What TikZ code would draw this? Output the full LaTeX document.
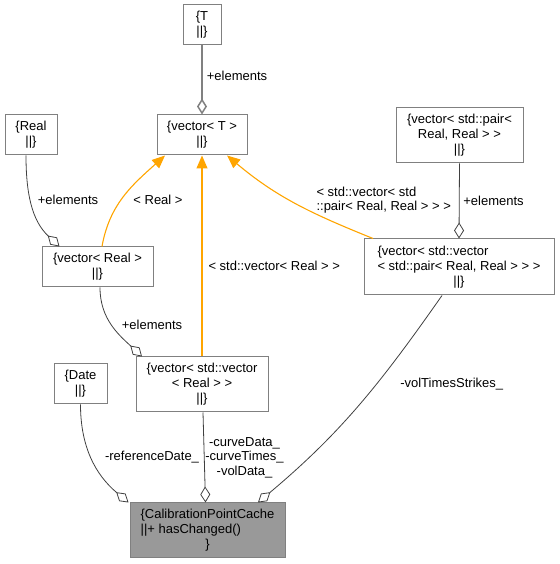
\documentclass[tikz,border=0pt]{standalone}
\usepackage{fontspec}
\setmainfont{Liberation Sans}
\usetikzlibrary{arrows.meta}
\definecolor{inherit}{RGB}{255,165,0}
\definecolor{aggline}{RGB}{64,64,64}
\definecolor{boxline}{RGB}{128,128,128}
\definecolor{cachefill}{RGB}{153,153,153}

\begin{document}
\begin{tikzpicture}[x=1pt,y=1pt,
    cls/.style={draw=boxline,line width=1pt,fill=white,align=center,inner sep=0pt,
      font=\fontsize{13}{15}\selectfont},
    lbl/.style={align=center,font=\fontsize{13}{14.5}\selectfont},
    inh/.style={draw=inherit,line width=1.1pt,-{Triangle[length=13pt,width=11pt]}},
    agg/.style={draw=aggline,line width=0.8pt,{Diamond[open,length=16pt,width=10pt]}-}]
      % frame: 1px of the 559x564 image = 1pt, y measured from the bottom
      \useasboundingbox (0,0) rectangle (559,564);
      % classes
      \node[cls,minimum width=38pt,minimum height=40pt] (T) at (202,539) {\{T\\||\}};
      \node[cls,minimum width=90pt,minimum height=40pt] (vecT) at (202,429) {\{vector< T >\\||\}};
      \node[cls,minimum width=52pt,minimum height=40pt] (Real) at (31,429) {\{Real\\||\}};
      \node[cls,minimum width=127pt,minimum height=55pt] (pair) at (459.5,428.5)
        {\{vector< std::pair<\\Real, Real > >\\||\}};
      \node[cls,minimum width=111pt,minimum height=40pt] (vecReal) at (97.5,297) {\{vector< Real >\\||\}};
      \node[cls,minimum width=190pt,minimum height=56pt] (vecPair) at (459,297)
        {\rlap{\{vector< std::vector}\phantom{< std::pair< Real, Real > > >}\\< std::pair< Real, Real > > >\\||\}};
      \node[cls,minimum width=132pt,minimum height=55pt] (vecVec) at (202,179.5)
        {\{vector< std::vector\\< Real > >\\||\}};
      \node[cls,minimum width=53pt,minimum height=40pt] (Date) at (80.5,180) {\{Date\\||\}};
      \node[cls,fill=cachefill,minimum width=155pt,minimum height=55pt] (cache) at (207.5,33.5)
        {\{CalibrationPointCache\\\rlap{||+ hasChanged()}\phantom{\{CalibrationPointCache}\\\}};
      % inheritance (template instances)
      \draw[inh] ([xshift=4.5pt]vecReal.north) to[out=80,in=222] ([xshift=-37pt]vecT.south);
      \draw[inh] (vecVec.north) -- (vecT.south);
      \draw[inh] ([xshift=-86pt]vecPair.north) to[out=158,in=-40] ([xshift=25pt]vecT.south);
      % aggregation
      \draw[agg,line width=1.5pt,draw=gray] (vecT.north) -- (T.south);
      \draw[agg] ([xshift=-38pt]vecReal.north) to[out=137,in=270] ([xshift=-5pt]Real.south);
      \draw[agg] ([xshift=-60pt]vecVec.north) to[out=137,in=270] ([xshift=2.5pt]vecReal.south);
      \draw[agg] (vecPair.north) -- (pair.south);
      \draw[agg] ([xshift=-79pt]cache.north) to[out=140,in=270] (Date.south);
      \draw[agg] ([xshift=-2pt]cache.north) -- ([xshift=1pt]vecVec.south);
      \draw[agg] ([xshift=50.5pt]cache.north) to[out=40,in=235] ([xshift=-17pt]vecPair.south);
      % connector labels
      \node[lbl] (lT) at (237,488) {+elements};
      \node[lbl] (lReal) at (68,364) {+elements};
      \node[lbl] (lInhReal) at (158,364) {< Real >};
      \node[lbl,anchor=west] (lInhVec) at (205,298) {< std::vector< Real > >};
      \node[lbl,align=left,anchor=west] (lInhPair) at (313,364) {< std::vector< std\\::pair< Real, Real > > >};
      \node[lbl] (lPair) at (493.5,363) {+elements};
      \node[lbl] (lVecReal) at (152,239) {+elements};
      \node[lbl] (lDate) at (152,107) {-referenceDate\_};
      \node[lbl] (lCurve) at (244.5,106.5) {-curveData\_\\-curveTimes\_\\-volData\_};
      \node[lbl] (lVolTS) at (451.7,180) {-volTimesStrikes\_};
\end{tikzpicture}
\end{document}
